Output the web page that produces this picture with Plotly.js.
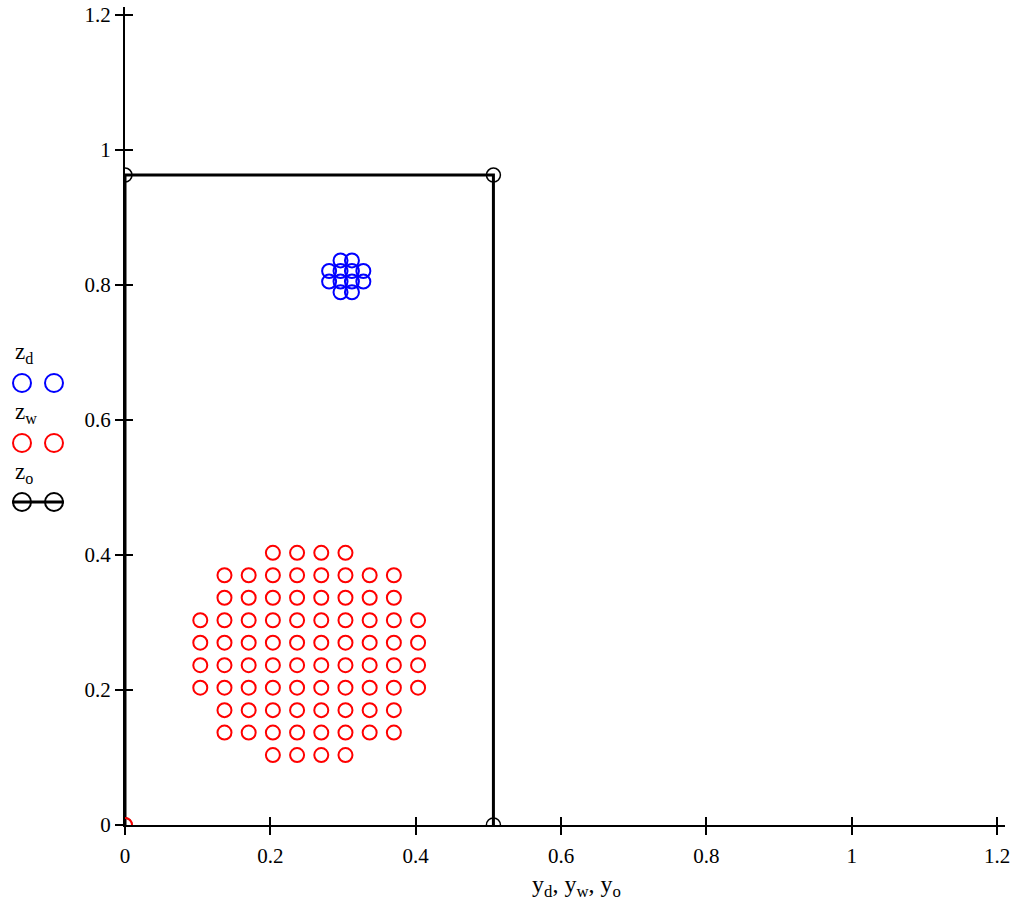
<!DOCTYPE html>
<html>
<head>
<meta charset="utf-8">
<script src="https://cdn.plot.ly/plotly-3.0.1.min.js"></script>
<style>html,body{margin:0;padding:0;background:#fff;}#chart{width:1024px;height:909px;}</style>
</head>
<body>
<div id="chart"></div>
<script>
// z_o : outline (black)
var outlineX = [0, 0, 0.507, 0.507];
var outlineY = [0, 0.963, 0.963, 0];

// z_d : blue cluster
var blueX = [0.2966, 0.3123,
             0.2809, 0.2966, 0.3123, 0.3280,
             0.2809, 0.2966, 0.3123, 0.3280,
             0.2966, 0.3123];
var blueY = [0.8365, 0.8365,
             0.8208, 0.8208, 0.8208, 0.8208,
             0.8051, 0.8051, 0.8051, 0.8051,
             0.7894, 0.7894];

// z_w : red cluster (first point at origin)
var redX = [0,
  0.2035, 0.2368, 0.2701, 0.3034,
  0.1369, 0.1702, 0.2035, 0.2368, 0.2701, 0.3034, 0.3367, 0.3700,
  0.1369, 0.1702, 0.2035, 0.2368, 0.2701, 0.3034, 0.3367, 0.3700,
  0.1036, 0.1369, 0.1702, 0.2035, 0.2368, 0.2701, 0.3034, 0.3367, 0.3700, 0.4033,
  0.1036, 0.1369, 0.1702, 0.2035, 0.2368, 0.2701, 0.3034, 0.3367, 0.3700, 0.4033,
  0.1036, 0.1369, 0.1702, 0.2035, 0.2368, 0.2701, 0.3034, 0.3367, 0.3700, 0.4033,
  0.1036, 0.1369, 0.1702, 0.2035, 0.2368, 0.2701, 0.3034, 0.3367, 0.3700, 0.4033,
  0.1369, 0.1702, 0.2035, 0.2368, 0.2701, 0.3034, 0.3367, 0.3700,
  0.1369, 0.1702, 0.2035, 0.2368, 0.2701, 0.3034, 0.3367, 0.3700,
  0.2035, 0.2368, 0.2701, 0.3034];
var redY = [0,
  0.4033, 0.4033, 0.4033, 0.4033,
  0.3700, 0.3700, 0.3700, 0.3700, 0.3700, 0.3700, 0.3700, 0.3700,
  0.3367, 0.3367, 0.3367, 0.3367, 0.3367, 0.3367, 0.3367, 0.3367,
  0.3034, 0.3034, 0.3034, 0.3034, 0.3034, 0.3034, 0.3034, 0.3034, 0.3034, 0.3034,
  0.2701, 0.2701, 0.2701, 0.2701, 0.2701, 0.2701, 0.2701, 0.2701, 0.2701, 0.2701,
  0.2368, 0.2368, 0.2368, 0.2368, 0.2368, 0.2368, 0.2368, 0.2368, 0.2368, 0.2368,
  0.2035, 0.2035, 0.2035, 0.2035, 0.2035, 0.2035, 0.2035, 0.2035, 0.2035, 0.2035,
  0.1702, 0.1702, 0.1702, 0.1702, 0.1702, 0.1702, 0.1702, 0.1702,
  0.1369, 0.1369, 0.1369, 0.1369, 0.1369, 0.1369, 0.1369, 0.1369,
  0.1036, 0.1036, 0.1036, 0.1036];

var tickVals = [0, 0.2, 0.4, 0.6, 0.8, 1, 1.2];
var tickText = ['0', '0.2', '0.4', '0.6', '0.8', '1', '1.2'];

var xTitle = 'y<sub>d</sub>, y<sub>w</sub>, y<sub>o</sub>';
var legendLabels = ['z<sub>d</sub>', 'z<sub>w</sub>', 'z<sub>o</sub>'];
var legendColors = ['#0000ff', '#ff0000', '#000000'];

var FONT = 'Liberation Serif';
var ML = 125, MR = 19, MT = 7, MB = 84, W = 1024, H = 909;
var PW = W - ML - MR, PH = H - MT - MB;
function px(x) { return (x - ML) / PW; }
function py(y) { return (H - MB - y) / PH; }

var traces = [
  {x: outlineX, y: outlineY, type: 'scatter', mode: 'lines+markers',
   line: {color: '#000', width: 3},
   marker: {symbol: 'circle-open', size: 14, color: '#000', line: {width: 1.5, color: '#000'}},
   showlegend: false, hoverinfo: 'skip'},
  {x: blueX, y: blueY, type: 'scatter', mode: 'markers',
   marker: {symbol: 'circle-open', size: 14, color: '#0000ff', line: {width: 2, color: '#0000ff'}},
   showlegend: false, hoverinfo: 'skip'},
  {x: redX, y: redY, type: 'scatter', mode: 'markers',
   marker: {symbol: 'circle-open', size: 14, color: '#ff0000', line: {width: 2, color: '#ff0000'}},
   showlegend: false, hoverinfo: 'skip'}
];

var axBase = {
  showgrid: false, zeroline: false, tickmode: 'array',
  tickvals: tickVals, ticktext: tickText,
  ticklen: 8, tickwidth: 2, tickcolor: '#000',
  tickfont: {family: FONT, size: 21, color: '#000'}
};

var annotations = [];
var shapes = [];
var textY = [353, 413, 473];
var circY = [383, 443, 502];
for (var i = 0; i < 3; i++) {
  annotations.push({xref: 'paper', yref: 'paper', x: px(13), y: py(textY[i]),
    xanchor: 'left', yanchor: 'middle', showarrow: false,
    text: legendLabels[i], font: {family: FONT, size: 23, color: '#000'}});
  if (i === 2) {
    shapes.push({type: 'line', xref: 'paper', yref: 'paper',
      x0: px(12), x1: px(64), y0: py(circY[i]), y1: py(circY[i]),
      line: {color: '#000', width: 3}});
  }
  [22, 54].forEach(function (cx) {
    shapes.push({type: 'circle', xref: 'paper', yref: 'paper',
      x0: px(cx - 9), x1: px(cx + 9), y0: py(circY[i] + 9), y1: py(circY[i] - 9),
      line: {color: legendColors[i], width: 2}});
  });
}
annotations.push({xref: 'paper', yref: 'paper', x: px(576), y: py(886),
  xanchor: 'center', yanchor: 'middle', showarrow: false,
  text: xTitle, font: {family: FONT, size: 24, color: '#000'}});

var layout = {
  width: W, height: H,
  margin: {l: ML, r: MR, t: MT, b: MB},
  paper_bgcolor: '#fff', plot_bgcolor: '#fff',
  showlegend: false,
  font: {family: FONT, color: '#000'},
  xaxis: Object.assign({}, axBase, {
    range: [0, 1.211], ticks: 'outside', showline: true, linewidth: 2, linecolor: '#000',
    ticklabelstandoff: 3
  }),
  yaxis: Object.assign({}, axBase, {
    range: [0, 1.212], ticks: 'outside', showline: true, linewidth: 2, linecolor: '#000'
  }),
  xaxis2: Object.assign({}, axBase, {
    range: [0, 1.211], ticks: 'inside', overlaying: 'x', side: 'bottom', showticklabels: false, showline: false
  }),
  yaxis2: Object.assign({}, axBase, {
    range: [0, 1.212], ticks: 'inside', overlaying: 'y', side: 'left', showticklabels: false, showline: false
  }),
  annotations: annotations,
  shapes: shapes
};

// invisible trace to activate overlay axes
traces.push({x: [], y: [], xaxis: 'x2', yaxis: 'y2', type: 'scatter', mode: 'markers', showlegend: false, hoverinfo: 'skip'});

Plotly.newPlot('chart', traces, layout, {displayModeBar: false, staticPlot: true});
</script>
</body>
</html>
